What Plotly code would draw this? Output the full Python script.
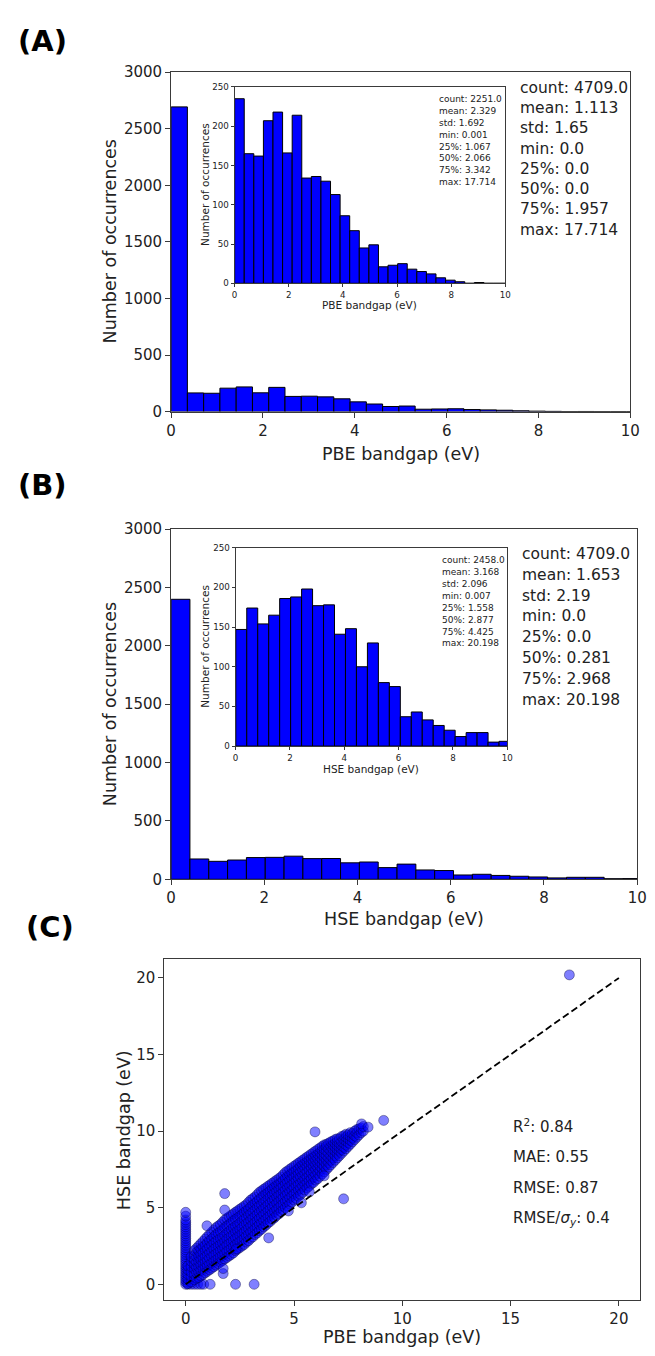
import numpy as np
import plotly.graph_objects as go

W, H = 655, 1356
FONT = "DejaVu Sans"
N_BINS = 50

# ---- (A) PBE band gaps: 50 bins over the full range, axis shows 0-10 eV ----
pbe_range = (0.0, 17.714)
pbe_counts = [2693, 165, 162, 207, 218, 166, 214, 134, 136, 130, 113, 86, 67, 45, 49,
              21, 23, 25, 18, 15, 12, 7, 4, 2, 0, 1, 0, 0, 0]
pbe_nz_range = (0.001, 17.714)
pbe_nz_counts = [235, 165, 162, 207, 218, 166, 214, 134, 136, 130, 113, 86, 67, 45, 49,
                 21, 23, 25, 18, 15, 12, 7, 4, 2, 0, 1, 0, 0, 0]
pbe_stats = ["count: 4709.0", "mean: 1.113", "std: 1.65", "min: 0.0",
             "25%: 0.0", "50%: 0.0", "75%: 1.957", "max: 17.714"]
pbe_nz_stats = ["count: 2251.0", "mean: 2.329", "std: 1.692", "min: 0.001",
                "25%: 1.067", "50%: 2.066", "75%: 3.342", "max: 17.714"]

# ---- (B) HSE band gaps ----
hse_range = (0.0, 20.198)
hse_counts = [2398, 174, 154, 165, 186, 188, 198, 177, 178, 141, 148, 100, 130, 80, 75,
              37, 43, 33, 26, 20, 12, 17, 17, 5, 6]
hse_nz_range = (0.007, 20.198)
hse_nz_counts = [147, 174, 154, 165, 186, 188, 198, 177, 178, 141, 148, 100, 130, 80, 75,
                 37, 43, 33, 26, 20, 12, 17, 17, 5, 6]
hse_stats = ["count: 4709.0", "mean: 1.653", "std: 2.19", "min: 0.0",
             "25%: 0.0", "50%: 0.281", "75%: 2.968", "max: 20.198"]
hse_nz_stats = ["count: 2458.0", "mean: 3.168", "std: 2.096", "min: 0.007",
                "25%: 1.558", "50%: 2.877", "75%: 4.425", "max: 20.198"]

# ---- (C) HSE vs PBE parity data ----
# compounds metallic in PBE (PBE gap = 0)
zero_pbe_hse = [0.0, 0.15, 0.3, 0.45, 0.6, 0.75, 0.9, 1.05, 1.2, 1.35, 1.5, 1.65, 1.8,
                1.95, 2.1, 2.25, 2.4, 2.55, 2.7, 2.85, 3.0, 3.15, 3.3, 3.45, 3.6, 3.75,
                3.9, 4.05, 4.2, 4.45, 4.7]
# compounds metallic in HSE (HSE gap = 0)
zero_hse_pbe = [0.1, 0.25, 0.4, 0.55, 0.7, 0.83, 1.13, 2.3, 3.16]
# main band: PBE gap -> HSE gaps
band = {
    0.1: [0.05, 0.35, 0.65, 0.95, 1.2],
    0.25: [0.15, 0.5, 0.8, 1.15, 1.5, 1.8],
    0.4: [0.3, 0.65, 1.0, 1.3, 1.6, 1.9, 2.2],
    0.5: [0.4, 0.75, 1.1, 1.45, 1.8, 2.1, 2.35],
    0.6: [0.45, 0.8, 1.15, 1.5, 1.85, 2.2, 2.5],
    0.7: [0.55, 0.9, 1.25, 1.6, 1.95, 2.3, 2.65],
    0.8: [0.65, 1.0, 1.35, 1.7, 2.05, 2.45, 2.8],
    0.9: [0.75, 1.1, 1.45, 1.8, 2.2, 2.55, 2.95],
    1.0: [0.85, 1.2, 1.55, 1.9, 2.3, 2.7, 3.1],
    1.1: [0.95, 1.3, 1.7, 2.05, 2.45, 2.85, 3.25],
    1.2: [1.05, 1.4, 1.8, 2.15, 2.55, 2.95, 3.4],
    1.3: [1.15, 1.5, 1.9, 2.3, 2.7, 3.1, 3.55],
    1.4: [1.25, 1.6, 2.0, 2.4, 2.8, 3.25, 3.7],
    1.5: [1.35, 1.7, 2.1, 2.5, 2.9, 3.35, 3.8],
    1.6: [1.45, 1.8, 2.2, 2.6, 3.0, 3.45, 3.9],
    1.7: [1.55, 1.9, 2.3, 2.7, 3.1, 3.55, 4.05],
    1.8: [1.65, 2.0, 2.4, 2.8, 3.2, 3.7, 4.2],
    1.9: [1.75, 2.15, 2.55, 2.95, 3.35, 3.8, 4.3],
    2.0: [1.85, 2.25, 2.65, 3.05, 3.45, 3.9, 4.4],
    2.1: [1.95, 2.35, 2.75, 3.15, 3.6, 4.0, 4.5],
    2.2: [2.05, 2.45, 2.85, 3.25, 3.7, 4.15, 4.6],
    2.3: [2.2, 2.6, 3.0, 3.4, 3.8, 4.25, 4.7],
    2.4: [2.3, 2.7, 3.1, 3.5, 3.9, 4.35, 4.8],
    2.5: [2.4, 2.8, 3.2, 3.6, 4.0, 4.45, 4.9],
    2.6: [2.5, 2.9, 3.3, 3.7, 4.15, 4.55, 5.0],
    2.7: [2.6, 3.0, 3.4, 3.85, 4.25, 4.7, 5.1],
    2.8: [2.75, 3.15, 3.55, 3.95, 4.35, 4.8, 5.2],
    2.9: [2.85, 3.25, 3.65, 4.05, 4.5, 4.9, 5.35],
    3.0: [3.0, 3.4, 3.8, 4.2, 4.6, 5.05, 5.5],
    3.1: [3.1, 3.5, 3.9, 4.3, 4.75, 5.2, 5.6],
    3.2: [3.25, 3.65, 4.05, 4.45, 4.85, 5.3, 5.7],
    3.3: [3.35, 3.75, 4.15, 4.55, 5.0, 5.4, 5.85],
    3.4: [3.5, 3.9, 4.3, 4.7, 5.1, 5.55, 6.0],
    3.5: [3.6, 4.0, 4.4, 4.8, 5.2, 5.65, 6.1],
    3.6: [3.75, 4.15, 4.55, 4.95, 5.35, 5.8, 6.2],
    3.7: [3.85, 4.25, 4.65, 5.05, 5.45, 5.9, 6.3],
    3.8: [4.0, 4.4, 4.8, 5.2, 5.6, 6.0, 6.4],
    3.9: [4.1, 4.5, 4.9, 5.3, 5.7, 6.1, 6.5],
    4.0: [4.25, 4.65, 5.05, 5.45, 5.85, 6.25, 6.6],
    4.1: [4.35, 4.75, 5.15, 5.55, 5.95, 6.35, 6.7],
    4.2: [4.5, 4.9, 5.3, 5.7, 6.05, 6.45, 6.8],
    4.3: [4.6, 5.0, 5.4, 5.8, 6.2, 6.55, 6.9],
    4.4: [4.75, 5.15, 5.55, 5.9, 6.3, 6.65, 7.0],
    4.5: [4.85, 5.25, 5.65, 6.05, 6.4, 6.8, 7.15],
    4.6: [5.0, 5.4, 5.8, 6.15, 6.55, 6.9, 7.3],
    4.7: [5.1, 5.5, 5.9, 6.3, 6.65, 7.05, 7.4],
    4.8: [5.25, 5.65, 6.05, 6.4, 6.8, 7.15, 7.5],
    4.9: [5.35, 5.75, 6.15, 6.5, 6.9, 7.25, 7.6],
    5.0: [5.5, 5.9, 6.3, 6.65, 7.0, 7.35, 7.7],
    5.1: [5.6, 6.0, 6.4, 6.75, 7.1, 7.45, 7.8],
    5.2: [5.75, 6.15, 6.5, 6.9, 7.2, 7.55, 7.9],
    5.3: [5.85, 6.25, 6.6, 7.0, 7.35, 7.7, 8.0],
    5.4: [6.0, 6.4, 6.75, 7.1, 7.45, 7.8, 8.1],
    5.5: [6.15, 6.5, 6.85, 7.2, 7.55, 7.9, 8.2],
    5.6: [6.3, 6.65, 7.0, 7.35, 7.7, 8.0, 8.3],
    5.7: [6.4, 6.75, 7.1, 7.45, 7.8, 8.1, 8.4],
    5.8: [6.55, 6.9, 7.25, 7.6, 7.9, 8.2, 8.5],
    5.9: [6.65, 7.0, 7.35, 7.7, 8.0, 8.3, 8.6],
    6.0: [6.8, 7.15, 7.5, 7.8, 8.1, 8.4, 8.7],
    6.1: [6.9, 7.25, 7.6, 7.9, 8.2, 8.5, 8.8],
    6.2: [7.05, 7.4, 7.7, 8.0, 8.3, 8.6, 8.9],
    6.3: [7.2, 7.55, 7.85, 8.15, 8.45, 8.75, 9.0],
    6.4: [7.35, 7.7, 8.0, 8.3, 8.55, 8.8, 9.1],
    6.5: [7.5, 7.8, 8.1, 8.4, 8.7, 9.0, 9.15],
    6.6: [7.65, 7.95, 8.25, 8.55, 8.85, 9.2],
    6.7: [7.8, 8.1, 8.4, 8.7, 9.0, 9.3],
    6.8: [7.95, 8.25, 8.55, 8.8, 9.1, 9.35],
    6.9: [8.1, 8.4, 8.7, 8.95, 9.2, 9.45],
    7.0: [8.25, 8.55, 8.8, 9.05, 9.3, 9.5],
    7.1: [8.4, 8.7, 8.95, 9.2, 9.5],
    7.2: [8.55, 8.8, 9.05, 9.3, 9.65],
    7.3: [8.7, 8.95, 9.2, 9.45, 9.7],
    7.4: [8.85, 9.1, 9.35, 9.6, 9.8],
    7.5: [9.0, 9.25, 9.5, 9.75],
    7.6: [9.15, 9.4, 9.65, 9.9],
    7.7: [9.3, 9.55, 9.85],
    7.8: [9.45, 9.7, 10.0],
    7.9: [9.6, 9.9, 10.1],
    8.0: [9.75, 10.15],
    8.1: [9.9, 10.2],
    8.2: [10.0, 10.3],
}
outlier_pbe = [1.8, 1.8, 7.29, 3.83, 1.73, 1.73, 5.71, 6.39, 5.97, 9.14, 8.12, 8.42,
               0.98, 4.74, 5.34, 2.33, 17.714]
outlier_hse = [5.92, 4.85, 5.58, 3.03, 0.7, 1.03, 6.03, 7.08, 9.95, 10.7, 10.47, 10.26,
               3.82, 4.79, 5.32, 2.3, 20.198]
metrics = ["R<sup>2</sup>: 0.84", "MAE: 0.55", "RMSE: 0.87",
           "RMSE/<i>σ<sub>y</sub></i>: 0.4"]
parity = [0, 20]


def px(x):
    return x / W


def py(y):
    return 1 - y / H


def bins(rng, counts):
    edges = np.linspace(rng[0], rng[1], N_BINS + 1)
    centers = (edges[:-1] + edges[1:]) / 2
    return centers[:len(counts)], edges[1] - edges[0]


def hist_trace(rng, counts, ax):
    centers, width = bins(rng, counts)
    return go.Bar(x=centers, y=counts, width=width,
                  marker=dict(color="#0000ff", line=dict(color="black", width=1)),
                  xaxis="x" + ax, yaxis="y" + ax, hoverinfo="skip")


def axis(fs, ticklen, domain, rng, tickvals, anchor):
    return dict(domain=domain, range=rng, tickvals=tickvals, anchor=anchor,
                showline=True, mirror=True, linecolor="#3a3a3a", linewidth=1,
                ticks="outside", ticklen=ticklen, tickwidth=1, tickcolor="#3a3a3a",
                showgrid=False, zeroline=False,
                tickfont=dict(size=fs, color="#222", family=FONT))


fig = go.Figure()
fig.add_trace(hist_trace(pbe_range, pbe_counts, ""))
fig.add_trace(hist_trace(pbe_nz_range, pbe_nz_counts, "2"))
fig.add_trace(hist_trace(hse_range, hse_counts, "3"))
fig.add_trace(hist_trace(hse_nz_range, hse_nz_counts, "4"))

sc_x = list(zero_hse_pbe) + [0.0] * len(zero_pbe_hse)
sc_y = [0.0] * len(zero_hse_pbe) + list(zero_pbe_hse)
for xv, ys in band.items():
    sc_x += [xv] * len(ys)
    sc_y += ys
sc_x += outlier_pbe
sc_y += outlier_hse
fig.add_trace(go.Scatter(x=sc_x, y=sc_y, mode="markers", xaxis="x5", yaxis="y5",
                         marker=dict(size=10, color="rgba(0,0,255,0.5)",
                                     line=dict(color="rgba(0,0,50,0.42)", width=0.9)),
                         hoverinfo="skip"))
fig.add_trace(go.Scatter(x=parity, y=parity, mode="lines", xaxis="x5", yaxis="y5",
                         line=dict(color="black", width=1.8, dash="7px,3.5px"),
                         hoverinfo="skip"))

main_x = [0, 2, 4, 6, 8, 10]
main_y = [0, 500, 1000, 1500, 2000, 2500, 3000]
ins_y = [0, 50, 100, 150, 200, 250]
c_ticks = [0, 5, 10, 15, 20]

fig.update_layout(
    width=W, height=H, margin=dict(l=0, r=0, t=0, b=0),
    paper_bgcolor="white", plot_bgcolor="white", showlegend=False,
    font=dict(family=FONT, color="#222"),
    xaxis=axis(15, 5, [px(170), px(640)], [0, 10], main_x, "y"),
    yaxis=axis(15, 5, [py(408), py(64)], [0, 3000], main_y, "x"),
    xaxis2=axis(8.7, 3, [px(235), px(512)], [0, 10], main_x, "y2"),
    yaxis2=axis(8.7, 3, [py(278), py(79)], [0, 250], ins_y, "x2"),
    xaxis3=axis(15, 5, [px(170), px(647)], [0, 10], main_x, "y3"),
    yaxis3=axis(15, 5, [py(882), py(527)], [0, 3000], main_y, "x3"),
    xaxis4=axis(8.7, 3, [px(236), px(514)], [0, 10], main_x, "y4"),
    yaxis4=axis(8.7, 3, [py(747), py(546)], [0, 250], ins_y, "x4"),
    xaxis5=axis(15, 5, [px(163), px(650)], [-0.99, 20.98], c_ticks, "y5"),
    yaxis5=axis(15, 5, [py(1308), py(963)], [-1.0, 21.22], c_ticks, "x5"),
)

ann = []


def text(x, y, s, size, xanchor="left", angle=0, color="#222"):
    ann.append(dict(x=px(x), y=py(y), xref="paper", yref="paper", text=s,
                    showarrow=False, xanchor=xanchor, yanchor="middle",
                    textangle=angle,
                    font=dict(size=size, family=FONT, color=color)))


# panel letters
text(11, 32, "<b>(A)</b>", 29, color="black")
text(11, 482, "<b>(B)</b>", 29, color="black")
text(19, 930, "<b>(C)</b>", 29, color="black")

# axis titles
text(107, 236, "Number of occurrences", 17.5, "center", -90)
text(405, 451, "PBE bandgap (eV)", 17.5, "center")
text(204, 178, "Number of occurrences", 10.5, "center", -90)
text(373, 300, "PBE bandgap (eV)", 10.5, "center")
text(107, 705, "Number of occurrences", 17.5, "center", -90)
text(408, 922, "HSE bandgap (eV)", 17.5, "center")
text(205, 646, "Number of occurrences", 10.5, "center", -90)
text(375, 770, "HSE bandgap (eV)", 10.5, "center")
text(122, 1136, "HSE bandgap (eV)", 17.5, "center", -90)
text(406, 1346, "PBE bandgap (eV)", 17.5, "center")

# summary statistics
for i, s in enumerate(pbe_stats):
    text(525, 80 + 20.5 * i, s, 15.5)
for i, s in enumerate(pbe_nz_stats):
    text(442, 91 + 12.1 * i, s, 9)
for i, s in enumerate(hse_stats):
    text(527, 552 + 21.2 * i, s, 15.5)
for i, s in enumerate(hse_nz_stats):
    text(445, 558.3 + 12.1 * i, s, 9)
for i, s in enumerate(metrics):
    text(518, 1132.5 + 31 * i, s, 15)

fig.update_layout(annotations=ann)
fig.write_html("out.html")
